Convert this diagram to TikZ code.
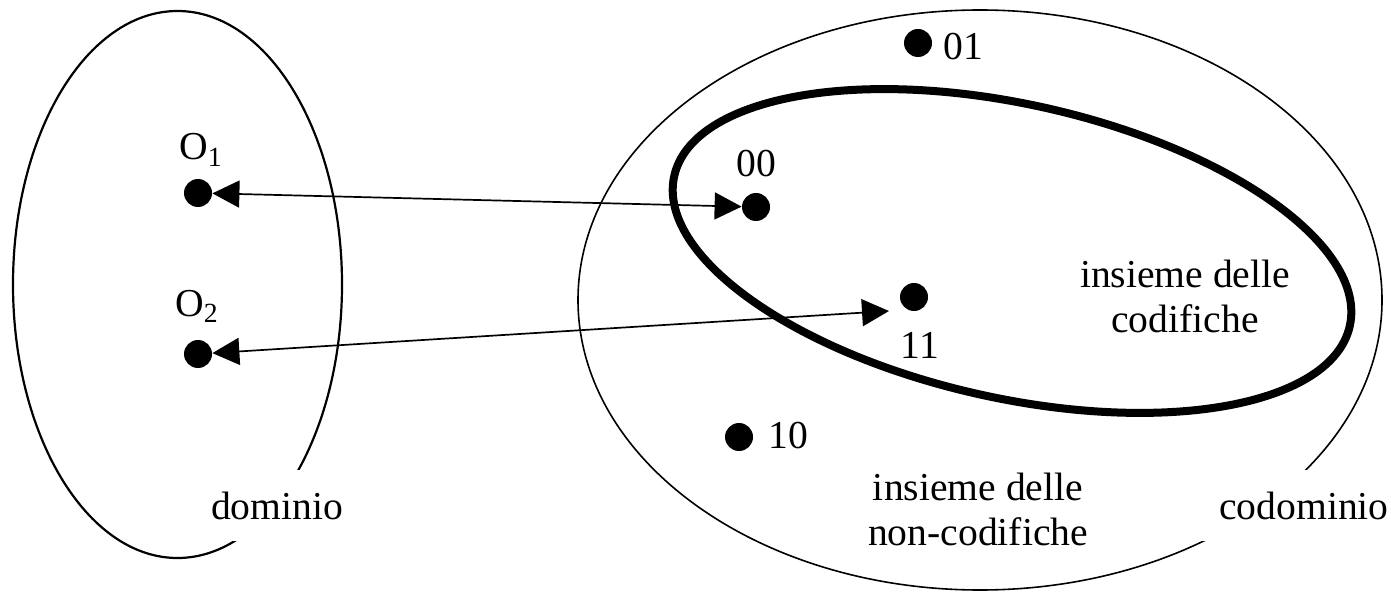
\documentclass[tikz,border=0pt]{standalone}
\usepackage{fontspec}
\setmainfont{Liberation Serif}
\usetikzlibrary{arrows.meta}
\begin{document}
\begin{tikzpicture}[x=0.5pt,y=-0.5pt,
  dot/.style={circle,fill=black,inner sep=0pt,minimum size=14pt},
  lbl/.style={inner sep=0pt,font=\fontsize{19.8}{22.5}\selectfont},
  gap/.style={lbl,fill=white,minimum height=35.5pt,inner xsep=1pt},
  tip/.style={Triangle[length=13.5pt,width=13.5pt]},
  arr/.style={line width=0.85pt,{Triangle[length=13.5pt,width=13.5pt]}-{Triangle[length=13.5pt,width=13.5pt]}},
  setline/.style={line width=1.1pt},
  cosetline/.style={line width=0.8pt},
  codline/.style={line width=4pt}]
\useasboundingbox (0,0) rectangle (1391,593);
% sets
\draw[setline] (177.5,284.5) ellipse [x radius=82.25pt, y radius=136.75pt];
\draw[cosetline] (980,300) ellipse [x radius=201pt, y radius=145pt];
\draw[codline, rotate around={-12.5:(1012,251)}] (1012,251) ellipse [x radius=173pt, y radius=73.5pt];
% set labels (masking the outline)
\node[gap] (dom) at (277,505.5) {dominio};
\node[gap, inner xsep=12pt] (cod) at (1304,505.5) {codominio};
\node[lbl, align=center] (cdf) at (1185,296) {insieme delle\\codifiche};
\node[lbl, align=center] (ncdf) at (978,509) {insieme delle\\non-codifiche};
% elements
\node[dot] (o1) at (198,193) {};
\node[lbl, anchor=base] (lo1) at (201,160) {O\textsubscript{1}};
\node[dot] (o2) at (198,354) {};
\node[lbl, anchor=base] (lo2) at (197,316) {O\textsubscript{2}};
\node[dot] (c00) at (756,207) {};
\node[lbl, anchor=base] (l00) at (756,177) {00};
\node[dot] (c01) at (918,43) {};
\node[lbl, anchor=base west] (l01) at (943,60) {01};
\node[dot] (c11) at (914,297) {};
\node[lbl, anchor=base] (l11) at (920,358) {11};
\node[dot] (c10) at (739,437) {};
\node[lbl, anchor=base west] (l10) at (768,448) {10};
\coordinate (e11) at (889,311);
% mapping
\draw[arr] (o1) -- (c00);
\draw[arr] (o2) -- (e11);
\end{tikzpicture}
\end{document}
